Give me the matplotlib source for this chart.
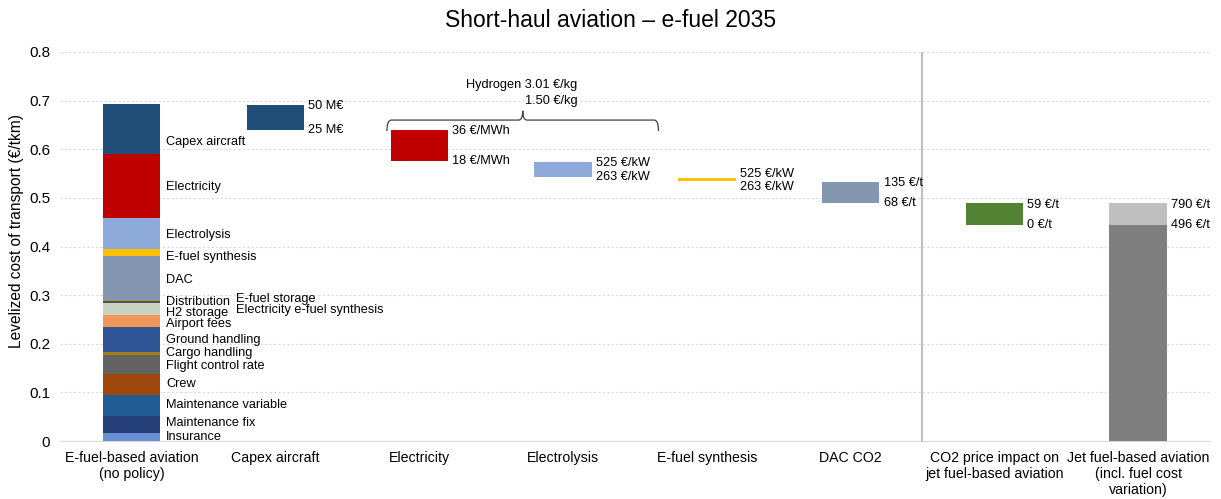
import matplotlib.pyplot as plt
from matplotlib.path import Path
from matplotlib.patches import PathPatch
from matplotlib.ticker import FuncFormatter

plt.rcParams['font.family'] = ['Liberation Sans', 'DejaVu Sans']
plt.rcParams['font.size'] = 9

# x-axis categories
categories = ["E-fuel-based aviation\n(no policy)", "Capex aircraft", "Electricity",
              "Electrolysis", "E-fuel synthesis", "DAC CO2",
              "CO2 price impact on\njet fuel-based aviation",
              "Jet fuel-based aviation\n(incl. fuel cost\nvariation)"]

# stacked cost components of the e-fuel bar, bottom to top (€/tkm)
components = ["Insurance", "Maintenance fix", "Maintenance variable", "Crew",
              "Flight control rate", "Cargo handling", "Ground handling", "Airport fees",
              "H2 storage", "Electricity e-fuel synthesis", "Distribution", "E-fuel storage",
              "DAC", "E-fuel synthesis", "Electrolysis", "Electricity", "Capex aircraft"]
component_values = [0.016, 0.036, 0.043, 0.043, 0.038, 0.007, 0.051, 0.026,
                    0.023, 0.001, 0.003, 0.003, 0.090, 0.015, 0.064, 0.131, 0.103]
component_colors = ["#6a8fd3", "#243f78", "#215d94", "#9e480e", "#636363", "#a47d16",
                    "#2f5597", "#f1975a", "#c9d2c2", "#7fa0c8", "#44546a", "#bf9000",
                    "#8497b0", "#ffc000", "#8eaadb", "#c00000", "#1f4e79"]
# label positions beside the stack (y value, column)
label_y = [0.008, 0.037, 0.074, 0.117, 0.154, 0.181, 0.208, 0.241,
           0.263, 0.269, 0.286, 0.292, 0.331, 0.378, 0.424, 0.522, 0.615]
label_col = [0, 0, 0, 0, 0, 0, 0, 0, 0, 1, 0, 1, 0, 0, 0, 0, 0]

# sensitivity ranges (low, high) with their parameter labels
range_low = [0.640, 0.576, 0.542, 0.534, 0.490, 0.4435]
range_high = [0.691, 0.640, 0.5745, 0.540, 0.533, 0.4887]
range_colors = ["#1f4e79", "#c00000", "#8eaadb", "#ffc000", "#8497b0", "#548235"]
range_top_labels = ["50 M€", "36 €/MWh", "525 €/kW", "525 €/kW", "135 €/t", "59 €/t"]
range_bottom_labels = ["25 M€", "18 €/MWh", "263 €/kW", "263 €/kW", "68 €/t", "0 €/t"]

# jet fuel reference bar
jet_base = 0.4435
jet_high = 0.4887
jet_labels = ["790 €/t", "496 €/t"]

hydrogen_labels = ["Hydrogen 3.01 €/kg", "1.50 €/kg"]

title = "Short-haul aviation – e-fuel 2035"
ylabel = "Levelized cost of transport (€/tkm)"

fig = plt.figure(figsize=(12.21, 4.99), dpi=100)
ax = fig.add_axes([0.049, 0.1162, 0.942, 0.7796])
w = 0.4
fs = 9.2

# stacked e-fuel bar
bottom = 0
for name, v, c, ly, col in zip(components, component_values, component_colors, label_y, label_col):
    ax.bar(0, v, w, bottom=bottom, color=c, linewidth=0, zorder=3)
    bottom += v
    ax.text(0.238 if col == 0 else 0.726, ly, name, va="center", ha="left",
            fontsize=fs, linespacing=1, zorder=4)

# floating range bars
px_per_unit = 0.7796 * 499 / 0.8
for i, (lo, hi, c, tl, bl) in enumerate(zip(range_low, range_high, range_colors,
                                              range_top_labels, range_bottom_labels)):
    x = i + 1 if i < 5 else 6
    ax.bar(x, hi - lo, w, bottom=lo, color=c, linewidth=0, zorder=3)
    sep = (hi - lo) * px_per_unit
    shift = max(0, (14 - sep) / 2) * 0.72
    ax.annotate(tl, (x + w / 2, hi), xytext=(3, shift - 1), textcoords="offset points",
                va="center", ha="left", fontsize=fs)
    ax.annotate(bl, (x + w / 2, lo), xytext=(3, -shift), textcoords="offset points",
                va="center", ha="left", fontsize=fs)

# jet fuel bar
ax.bar(7, jet_base, w, color="#7f7f7f", linewidth=0, zorder=3)
ax.bar(7, jet_high - jet_base, w, bottom=jet_base, color="#bfbfbf", linewidth=0, zorder=3)
ax.annotate(jet_labels[0], (7 + w / 2, jet_high), xytext=(3, -1), textcoords="offset points",
            va="center", ha="left", fontsize=fs)
ax.annotate(jet_labels[1], (7 + w / 2, jet_base), xytext=(3, 0), textcoords="offset points",
            va="center", ha="left", fontsize=fs)

# separator between e-fuel and jet fuel parts
ax.axvline(5.5, color="#bfbfbf", linewidth=1.5, zorder=2)

# hydrogen brace over electricity and electrolysis
x0, x1, xc = 1.775, 3.664, 2.72
yb, y1, yt = 0.6375, 0.660, 0.679
dx = 0.03
verts = [(x0, yb), (x0, y1), (x0 + dx, y1),
         (xc - dx, y1), (xc, y1), (xc, yt),
         (xc, y1), (xc + dx, y1),
         (x1 - dx, y1), (x1, y1), (x1, yb)]
codes = [Path.MOVETO, Path.CURVE3, Path.CURVE3,
         Path.LINETO, Path.CURVE3, Path.CURVE3,
         Path.CURVE3, Path.CURVE3,
         Path.LINETO, Path.CURVE3, Path.CURVE3]
ax.add_patch(PathPatch(Path(verts, codes), facecolor="none", edgecolor="#404040",
                       linewidth=0.9, zorder=4))
ax.text(3.10, 0.732, hydrogen_labels[0], ha="right", va="center", fontsize=fs)
ax.text(3.10, 0.699, hydrogen_labels[1], ha="right", va="center", fontsize=fs)

ax.set_xlim(-0.5, 7.5)
ax.set_ylim(0, 0.8)
ax.set_xticks(range(len(categories)))
ax.set_xticklabels(categories, fontsize=10.2, linespacing=1.2)
ax.set_yticks([i / 10 for i in range(9)])
ax.yaxis.set_major_formatter(FuncFormatter(lambda v, p: "0" if v == 0 else f"{v:.1f}"))
ax.tick_params(axis="both", length=0)
ax.tick_params(axis="x", pad=7)
ax.tick_params(axis="y", pad=7, labelsize=11)
ax.grid(axis="y", color="#d9d9d9", linestyle=(0, (2, 2)), linewidth=0.8, zorder=0)
for s in ["top", "right", "left"]:
    ax.spines[s].set_visible(False)
ax.spines["bottom"].set_color("#d9d9d9")
ax.set_ylabel(ylabel, fontsize=11.2)
ax.yaxis.set_label_coords(-0.031, 0.54)
fig.text(0.5, 0.958, title, ha="center", va="center", fontsize=16.5)

fig.savefig("out.png", dpi=100)
